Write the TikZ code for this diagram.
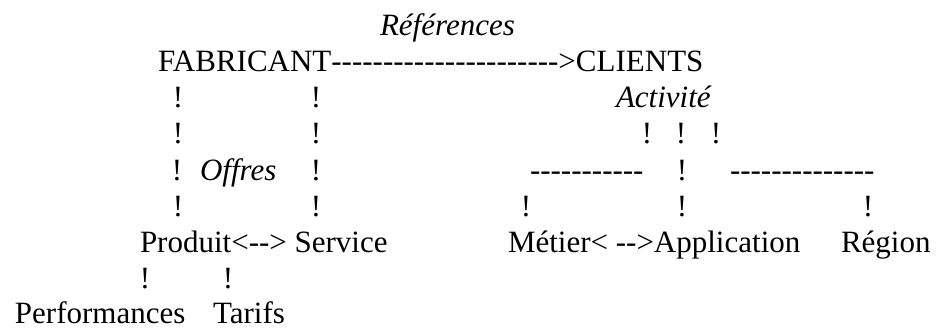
\documentclass[tikz,border=0pt]{standalone}
\usepackage{fontspec}
\newfontfamily\tnr{Liberation Serif}
\begin{document}
\begin{tikzpicture}[x=1pt,y=-1pt,
  txt/.style={inner sep=0pt, outer sep=0pt, anchor=base west, font=\tnr\fontsize{31}{36}\selectfont},
  lab/.style={txt, font=\tnr\itshape\fontsize{31}{36}\selectfont},
  bang/.style={txt, anchor=base}]
\useasboundingbox (0,0) rectangle (938,330);
% row 0
\node[lab] (ref) at (380,35) {Références};
% row 1
\node[txt] (fab) at (158,71) {FABRICANT};
\node[txt] (fabcli) at (fab.base east) {---------------------->};
\node[txt] (cli) at (fabcli.base east) {CLIENTS};
% row 2
\node[bang] (b21) at (178,107) {!};
\node[bang] (b22) at (316,107) {!};
\node[lab] (act) at (616,107) {Activité};
% row 3
\node[bang] (b31) at (178,143) {!};
\node[bang] (b32) at (316,143) {!};
\node[bang] (b33) at (647,143) {!};
\node[bang] (b34) at (681,143) {!};
\node[bang] (b35) at (716,143) {!};
% row 4
\node[bang] (b41) at (177,180) {!};
\node[lab] (off) at (200,180) {Offres};
\node[bang] (b42) at (316,180) {!};
\node[txt] (dl) at (530,180) {-----------};
\node[bang] (b43) at (682,180) {!};
\node[txt] (dr) at (730,180) {--------------};
% row 5
\node[bang] (b51) at (178,216) {!};
\node[bang] (b52) at (316,216) {!};
\node[bang] (b53) at (526,216) {!};
\node[bang] (b54) at (682,216) {!};
\node[bang] (b55) at (868,216) {!};
% row 6
\node[txt] (prod) at (140,252) {Produit};
\node[txt] (ps) at (prod.base east) {<-->};
\node[txt] (serv) at ([xshift=7.75pt]ps.base east) {Service};
\node[txt] (met) at (508,252) {Métier};
\node[txt] (ma) at (met.base east) {< -->};
\node[txt] (app) at (ma.base east) {Application};
\node[txt] (reg) at (841,252) {Région};
% row 7
\node[bang] (b71) at (145,288) {!};
\node[bang] (b72) at (228,288) {!};
% row 8
\node[txt] (perf) at (15,323) {Performances};
\node[txt] (tar) at (213,323) {Tarifs};
\end{tikzpicture}
\end{document}
